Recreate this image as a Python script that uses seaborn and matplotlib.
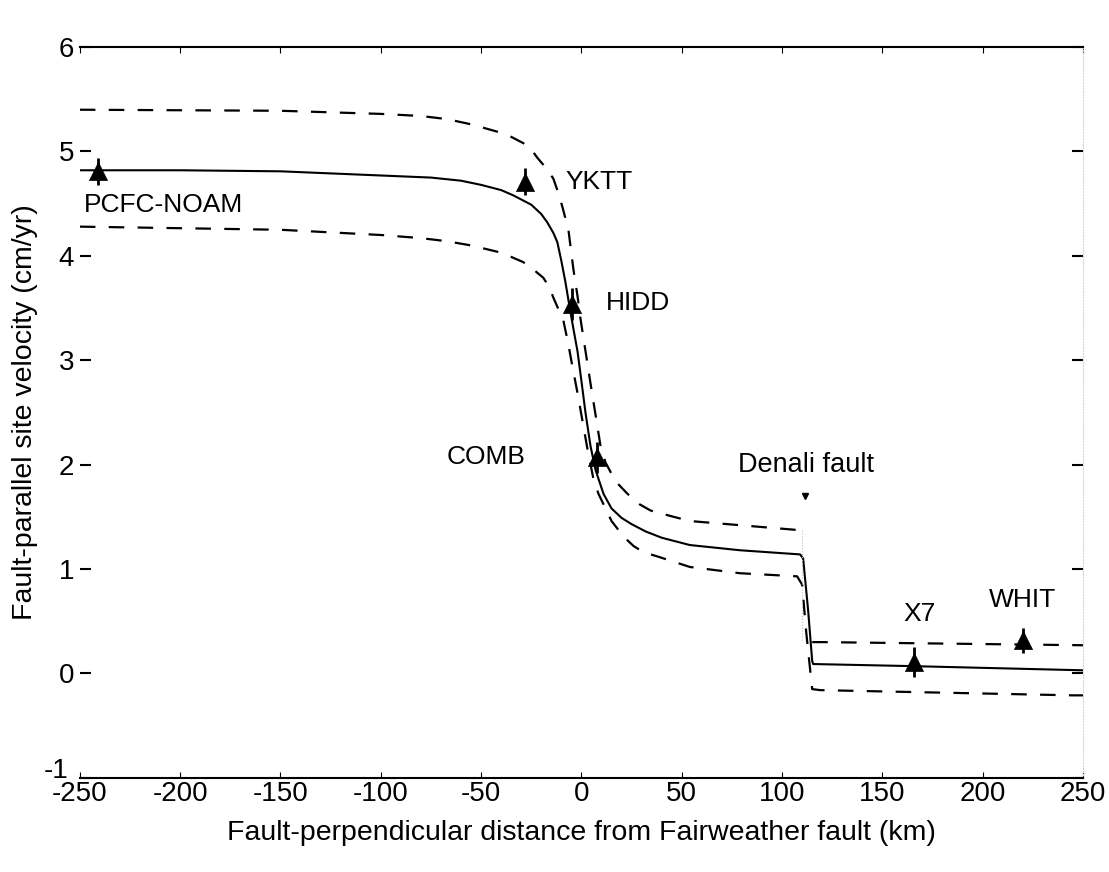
import numpy as np
import pandas as pd
import matplotlib
matplotlib.use("Agg")
import matplotlib.pyplot as plt
import matplotlib.transforms as mtrans
import seaborn as sns

# ---- data ----
solid_x = [-250, -200, -150, -100, -75, -60, -50, -40, -34, -30, -25, -20, -17, -14, -12, -10,
           -8, -6, -4, -2, 0, 2, 4.5, 7, 11, 15, 20, 25, 32, 40, 54, 79, 109,
           110.5, 113, 115, 115.5, 165, 250]
solid_y = [4.82, 4.82, 4.81, 4.77, 4.75, 4.72, 4.68, 4.63, 4.58, 4.54, 4.49, 4.40, 4.32, 4.22, 4.13, 3.95,
           3.75, 3.52, 3.30, 3.09, 2.80, 2.50, 2.18, 1.95, 1.72, 1.58, 1.49, 1.43, 1.36, 1.30, 1.23, 1.18, 1.14,
           1.10, 0.60, 0.12, 0.09, 0.07, 0.03]

lower_x = [-250, -150, -100, -80, -67, -55, -42, -35, -29, -24, -19, -16, -14, -11.5, -9, -6.5,
           -4.5, -2, 0.5, 3, 6, 8.5, 11, 15, 21, 26, 31, 38, 54, 79, 107.5,
           110, 112, 115, 119, 245, 250]
lower_y = [4.28, 4.25, 4.20, 4.17, 4.14, 4.10, 4.04, 3.99, 3.94, 3.87, 3.79, 3.70, 3.60, 3.49, 3.38, 3.15,
           2.94, 2.69, 2.42, 2.15, 1.86, 1.72, 1.62, 1.46, 1.31, 1.22, 1.16, 1.12, 1.02, 0.96, 0.93,
           0.85, 0.40, -0.15, -0.16, -0.21, -0.21]

upper_left_x = [-250, -150, -100, -80, -67, -55, -42, -35, -29, -25, -22, -18, -14, -11.5, -9.5, -6.5,
                -4, -2, -0.5, 2, 4.5, 7, 9.5, 12, 14.5, 18, 23, 29, 34.5, 46, 54, 79, 104, 110]
upper_left_y = [5.40, 5.39, 5.36, 5.34, 5.31, 5.26, 5.19, 5.14, 5.08, 5.02, 4.94, 4.85, 4.74, 4.60, 4.47, 4.25,
                3.87, 3.62, 3.40, 3.09, 2.78, 2.48, 2.18, 2.02, 1.93, 1.82, 1.72, 1.62, 1.56, 1.50, 1.46, 1.42, 1.38, 1.37]
upper_right_x = [115, 120, 250]
upper_right_y = [0.30, 0.30, 0.27]

site_names = ["PCFC-NOAM", "YKTT", "HIDD", "COMB", "X7", "WHIT"]
site_x = [-241, -28, -4.5, 8, 165.5, 220]
site_v = [4.81, 4.71, 3.54, 2.07, 0.11, 0.32]
site_err = [0.13, 0.13, 0.15, 0.15, 0.14, 0.12]
label_x = [-248, -8, 12, -67, 160.5, 203]
label_y = [4.49, 4.71, 3.55, 2.07, 0.57, 0.70]

fault_name = "Denali fault"
fault_x = 111.5
fault_label_x = 77.8
fault_label_y = 2.0
fault_marker_y = 1.70

x_ticks = [-250, -200, -150, -100, -50, 0, 50, 100, 150, 200, 250]
y_ticks = [-1, 0, 1, 2, 3, 4, 5, 6]

# ---- plotting ----
sns.set_theme(style="ticks")
plt.rcParams["font.family"] = ["Liberation Sans", "DejaVu Sans"]

fig = plt.figure(figsize=(11.09, 8.72), dpi=100)
ax = fig.add_axes([0.072, 0.108, 0.9046, 0.838])

df_solid = pd.DataFrame({"x": solid_x, "y": solid_y})
df_lower = pd.DataFrame({"x": lower_x, "y": lower_y})
df_ul = pd.DataFrame({"x": upper_left_x, "y": upper_left_y})
df_ur = pd.DataFrame({"x": upper_right_x, "y": upper_right_y})

sns.lineplot(data=df_solid, x="x", y="y", ax=ax, color="black", lw=1.5,
             sort=False, estimator=None)
for d in (df_lower, df_ul, df_ur):
    sns.lineplot(data=d, x="x", y="y", ax=ax, color="black", lw=1.6,
                 sort=False, estimator=None, dashes=False, linestyle=(0, (7, 6)))
# faint connector at the Denali fault for upper bound
ax.plot([upper_left_x[-1], upper_left_x[-1]], [upper_left_y[-1], upper_right_y[0]],
        color="#bbbbbb", lw=0.8, ls=":")

# sites
ax.errorbar(site_x, site_v, yerr=site_err, fmt="none", ecolor="black",
            elinewidth=2, capsize=0, zorder=4)
sns.scatterplot(x=site_x, y=site_v, ax=ax, marker="^", s=170, color="black",
                edgecolor="black", linewidth=0.5, zorder=5)

for name, lx, ly in zip(site_names, label_x, label_y):
    ax.text(lx, ly, name, fontsize=19, ha="left", va="center", color="black")

ax.text(fault_label_x, fault_label_y, fault_name, fontsize=19.5, ha="left",
        va="center", color="black")
ax.plot([fault_x], [fault_marker_y], marker="v", markersize=4, color="black")

ax.set_xlim(-250, 250)
ax.set_ylim(-1, 6)
ax.set_xticks(x_ticks)
ax.set_yticks(y_ticks)
ax.set_xticklabels([str(t) for t in x_ticks])
ax.set_yticklabels([str(t) for t in y_ticks])

ax.set_xlabel("Fault-perpendicular distance from Fairweather fault (km)",
              fontsize=20.5, labelpad=10, color="black")
ax.set_ylabel("Fault-parallel site velocity (cm/yr)", fontsize=20.5, labelpad=4,
              color="black")

for s in ("top", "bottom"):
    ax.spines[s].set_visible(True)
    ax.spines[s].set_color("black")
    ax.spines[s].set_linewidth(1.5)
ax.spines["left"].set_visible(False)
ax.spines["right"].set_visible(True)
ax.spines["right"].set_color("#d5d5d5")
ax.spines["right"].set_linewidth(0.8)
ax.spines["right"].set_linestyle(":")

ax.tick_params(axis="y", which="both", direction="in", left=True, right=True,
               length=8, width=1.5, labelsize=20, pad=4, color="black",
               labelcolor="black")
ax.tick_params(axis="x", which="both", direction="in", bottom=True, top=True,
               length=4, width=0.8, labelsize=20, pad=2, color="black",
               labelcolor="black")

# lift the bottom y label so it stacks above the first x label, as in the reference
lift = mtrans.ScaledTranslation(-4 / 72, 7 / 72, fig.dpi_scale_trans)
ylab = ax.get_yticklabels()[0]
ylab.set_transform(ylab.get_transform() + lift)

ax.grid(False)
ax.set_facecolor("white")
fig.patch.set_facecolor("white")

fig.savefig("out.png", dpi=100, facecolor="white")
